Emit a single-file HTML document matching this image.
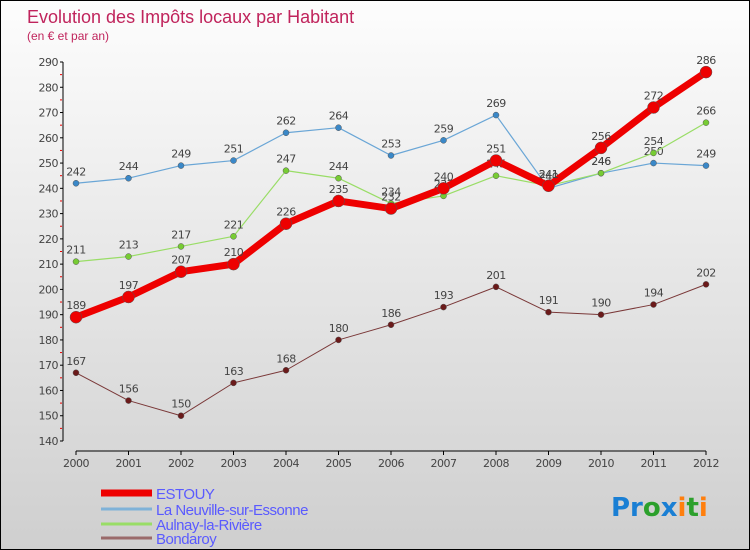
<!DOCTYPE html>
<html><head><meta charset="utf-8"><style>
body{margin:0}
#c{width:748px;height:548px;border:1px solid #000;background:linear-gradient(#fdfdfd,#cfcfcf);position:relative;font-family:"DejaVu Sans","Liberation Sans",sans-serif;overflow:hidden}
svg text{font-family:"DejaVu Sans","Liberation Sans",sans-serif}
</style></head><body>
<div id="c">
<svg id="s" width="748" height="548">
<text x="26" y="22" font-size="18" fill="#c0245c" style="font-family:'Liberation Sans',sans-serif">Evolution des Impôts locaux par Habitant</text>
<text x="26" y="39" font-size="12" fill="#c0245c" style="font-family:'Liberation Sans',sans-serif">(en € et par an)</text>
<g id="g"></g>
<text x="610" y="515" font-size="26" font-weight="bold"><tspan fill="#1a7fd4">Pr</tspan><tspan fill="#2ca02c">o</tspan><tspan fill="#1a7fd4">x</tspan><tspan fill="#ff7f0e">i</tspan><tspan fill="#2ca02c">t</tspan><tspan fill="#ff7f0e">i</tspan></text>
</svg>
</div>
<script>
const years=["2000","2001","2002","2003","2004","2005","2006","2007","2008","2009","2010","2011","2012"];
const yTicks=[140,150,160,170,180,190,200,210,220,230,240,250,260,270,280,290];
const estouy=[189,197,207,210,226,235,232,240,251,241,256,272,286];
const neuville=[242,244,249,251,262,264,253,259,269,240,246,250,249];
const aulnay=[211,213,217,221,247,244,234,237,245,241,246,254,266];
const bondaroy=[167,156,150,163,168,180,186,193,201,191,190,194,202];
const seriesNames=["ESTOUY","La Neuville-sur-Essonne","Aulnay-la-Rivière","Bondaroy"];
const NS="http://www.w3.org/2000/svg";
const g=document.getElementById('g');
function X(i){return 75+i*52.5;}
function Y(v){return 440-(v-140)*(379/150);}
function mk(t,a,p){const e=document.createElementNS(NS,t);for(const k in a)e.setAttribute(k,a[k]);(p||g).appendChild(e);return e;}
let ya=mk('line',{x1:62,y1:Y(290),x2:62,y2:Y(140),stroke:'#000'});

let xa=mk('line',{x1:75,y1:450,x2:705,y2:450,stroke:'#000'});

yTicks.forEach(v=>{
 mk('line',{x1:59,y1:Y(v),x2:62,y2:Y(v),stroke:'#000'});
 if(v<290)mk('line',{x1:59,y1:Y(v+5),x2:61,y2:Y(v+5),stroke:'#e00'});
 const t=mk('text',{x:57,y:Y(v)+4,'font-size':11,fill:'#444','text-anchor':'end','letter-spacing':'-0.5'});
 t.textContent=v;
});
years.forEach((y,i)=>{
 mk('line',{x1:X(i),y1:450,x2:X(i),y2:454,stroke:'#000'});
 const t=mk('text',{x:X(i),y:466,'font-size':11,fill:'#444','text-anchor':'middle','letter-spacing':'-0.5'});
 t.textContent=y;
});
function series(data,color,w,r,dot,name){
 const gg=mk('g',{});
 mk('polyline',{points:data.map((v,i)=>X(i)+','+Y(v)).join(' '),fill:'none',stroke:color,'stroke-width':w,'stroke-linejoin':'round'},gg);
 data.forEach((v,i)=>{
  const c=mk('circle',{cx:X(i),cy:Y(v),r:r,fill:dot,stroke:'#555','stroke-width':0.5},gg);
  
  const t=mk('text',{x:X(i),y:Y(v)-8,'font-size':11,fill:'#444','text-anchor':'middle','letter-spacing':'-0.5'},gg);
  t.textContent=v;
 });
}
series(bondaroy,'#7a3838',1,3,'#6b1a1a','series-bondaroy');
series(neuville,'#6aa6d6',1.2,3,'#3a88c8','series-neuville');
series(aulnay,'#99dd66',1.2,3,'#77cc33','series-aulnay');
series(estouy,'#ee0000',7,6,'#ee0000','series-estouy');
const lc=['#ee0000','#7fb2d8','#99dd66','#9a6a6a'],lw=[7,3,3,3],ly=[492,508,523,537];
seriesNames.forEach((n,i)=>{
 const gg=mk('g',{});
 mk('line',{x1:100,y1:ly[i],x2:151,y2:ly[i],stroke:lc[i],'stroke-width':lw[i]},gg);
 const t=mk('text',{x:155,y:ly[i]+6,'font-size':15,fill:'#5a5aff','letter-spacing':'-0.5',style:"font-family:'Liberation Sans',sans-serif"},gg);t.textContent=n;
});
</script>
</body></html>
